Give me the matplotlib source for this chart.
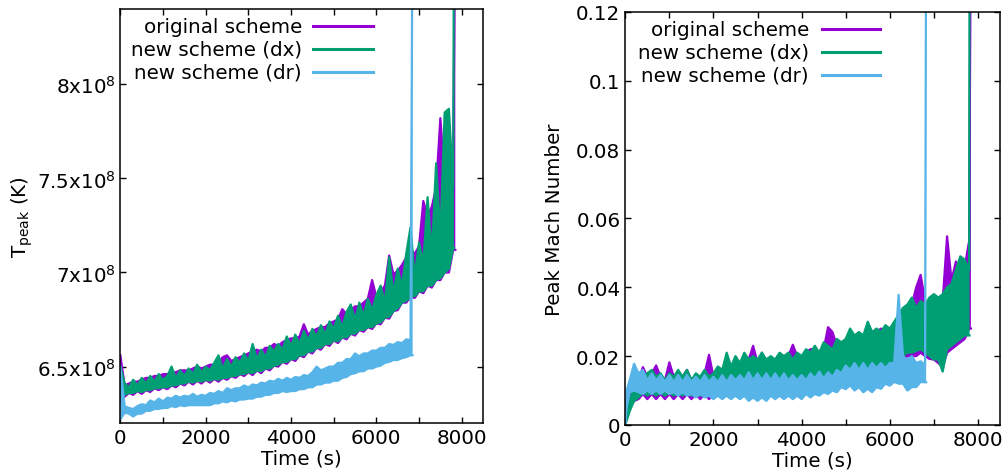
import matplotlib
matplotlib.use("Agg")
import matplotlib.pyplot as plt
from matplotlib.ticker import MultipleLocator, FixedLocator

plt.rcParams['font.family'] = ['DejaVu Sans']

# ---------------- data ----------------
# Each noisy run is given as its lower / upper envelope,
# sampled every 100 s (plus start and blow-up points).
labels = ["original scheme", "new scheme (dx)", "new scheme (dr)"]
colors = ["#9400D3", "#009E73", "#56B4E9"]

steps_7800 = list(range(100, 7900, 100))   # 100 ... 7800 s
steps_6800 = list(range(100, 6900, 100))   # 100 ... 6800 s

# ---- Left panel: peak temperature, units of 1e8 K ----
T_orig_t = [0] + steps_7800 + [7850]
T_orig_lo = [6.31,
    6.34, 6.36, 6.35, 6.37, 6.355, 6.375, 6.365, 6.385, 6.375, 6.39,
    6.38, 6.40, 6.39, 6.41, 6.40, 6.42, 6.405, 6.425, 6.41, 6.43,
    6.415, 6.435, 6.42, 6.44, 6.43, 6.45, 6.44, 6.46, 6.45, 6.47,
    6.455, 6.48, 6.465, 6.49, 6.48, 6.505, 6.50, 6.525, 6.515, 6.54,
    6.53, 6.56, 6.55, 6.58, 6.57, 6.60, 6.59, 6.62, 6.61, 6.64,
    6.625, 6.655, 6.645, 6.675, 6.665, 6.695, 6.685, 6.71, 6.70, 6.73,
    6.725, 6.76, 6.755, 6.795, 6.80, 6.84, 6.84, 6.87, 6.865, 6.90,
    6.89, 6.93, 6.92, 6.96, 6.96, 7.00, 7.00, 7.12,
    7.12]
T_orig_hi = [6.56,
    6.40, 6.41, 6.42, 6.42, 6.43, 6.44, 6.44, 6.45, 6.45, 6.46,
    6.46, 6.47, 6.47, 6.48, 6.48, 6.48, 6.49, 6.50, 6.49, 6.50,
    6.51, 6.51, 6.52, 6.55, 6.56, 6.53, 6.54, 6.55, 6.56, 6.57,
    6.58, 6.59, 6.58, 6.60, 6.60, 6.62, 6.61, 6.63, 6.64, 6.65,
    6.65, 6.66, 6.725, 6.67, 6.69, 6.70, 6.71, 6.71, 6.73, 6.74,
    6.75, 6.805, 6.78, 6.80, 6.82, 6.82, 6.84, 6.86, 6.96, 6.87,
    6.90, 6.93, 7.09, 6.99, 7.01, 7.04, 7.08, 7.12, 7.10, 7.14,
    7.38, 7.30, 7.35, 7.45, 7.82, 7.50, 7.60, 7.55,
    9.00]

T_dx_t = [0] + steps_7800 + [7820]
T_dx_lo = [6.33,
    6.35, 6.36, 6.36, 6.37, 6.365, 6.375, 6.375, 6.385, 6.385, 6.39,
    6.39, 6.40, 6.40, 6.41, 6.41, 6.42, 6.415, 6.425, 6.42, 6.43,
    6.425, 6.435, 6.43, 6.44, 6.44, 6.45, 6.45, 6.46, 6.46, 6.47,
    6.465, 6.48, 6.475, 6.49, 6.49, 6.505, 6.51, 6.525, 6.525, 6.54,
    6.54, 6.56, 6.56, 6.58, 6.58, 6.60, 6.60, 6.62, 6.62, 6.64,
    6.635, 6.655, 6.655, 6.675, 6.675, 6.695, 6.695, 6.71, 6.71, 6.73,
    6.735, 6.76, 6.765, 6.795, 6.81, 6.84, 6.85, 6.87, 6.875, 6.90,
    6.90, 6.93, 6.93, 6.96, 6.97, 7.00, 7.02, 7.13,
    7.13]
T_dx_hi = [6.50,
    6.41, 6.39, 6.43, 6.40, 6.44, 6.41, 6.45, 6.42, 6.46, 6.43,
    6.45, 6.50, 6.44, 6.48, 6.45, 6.49, 6.46, 6.51, 6.47, 6.50,
    6.48, 6.52, 6.56, 6.49, 6.54, 6.50, 6.55, 6.52, 6.57, 6.53,
    6.62, 6.54, 6.59, 6.55, 6.61, 6.58, 6.62, 6.59, 6.66, 6.61,
    6.67, 6.62, 6.69, 6.64, 6.70, 6.66, 6.72, 6.67, 6.74, 6.70,
    6.77, 6.71, 6.79, 6.83, 6.75, 6.84, 6.77, 6.86, 6.80, 6.88,
    6.93, 6.84, 7.08, 6.89, 7.02, 6.93, 7.10, 7.24, 6.98, 7.16,
    7.05, 7.40, 7.10, 7.58, 7.20, 7.85, 7.87, 7.45,
    9.00]

T_dr_t = [0] + steps_6800 + [6850]
T_dr_lo = [6.22,
    6.255, 6.25, 6.235, 6.25, 6.25, 6.265, 6.265, 6.275, 6.275, 6.28,
    6.28, 6.29, 6.285, 6.295, 6.29, 6.295, 6.295, 6.295, 6.295, 6.295,
    6.295, 6.305, 6.305, 6.315, 6.31, 6.32, 6.315, 6.325, 6.325, 6.33,
    6.33, 6.34, 6.34, 6.35, 6.35, 6.36, 6.36, 6.37, 6.365, 6.37,
    6.37, 6.38, 6.38, 6.39, 6.39, 6.405, 6.405, 6.415, 6.415, 6.425,
    6.425, 6.44, 6.445, 6.46, 6.465, 6.475, 6.475, 6.49, 6.49, 6.50,
    6.505, 6.52, 6.525, 6.535, 6.535, 6.545, 6.55, 6.56,
    6.56]
T_dr_hi = [6.50,
    6.29, 6.28, 6.275, 6.29, 6.30, 6.295, 6.32, 6.31, 6.33, 6.315,
    6.335, 6.33, 6.345, 6.335, 6.345, 6.34, 6.355, 6.34, 6.35, 6.345,
    6.36, 6.355, 6.37, 6.36, 6.385, 6.375, 6.385, 6.385, 6.40, 6.39,
    6.405, 6.40, 6.415, 6.41, 6.425, 6.42, 6.435, 6.425, 6.44, 6.43,
    6.445, 6.44, 6.455, 6.45, 6.47, 6.50, 6.48, 6.49, 6.50, 6.50,
    6.52, 6.52, 6.54, 6.54, 6.57, 6.555, 6.57, 6.57, 6.585, 6.585,
    6.60, 6.60, 6.62, 6.615, 6.63, 6.625, 6.645, 6.64,
    9.00]

# ---- Right panel: peak Mach number, units of 1e-3 ----
M_orig_t = [0, 50] + steps_7800 + [7840]
M_orig_lo = [0, 3,
    5, 7, 7.5, 9, 7.5, 9, 7.5, 9, 7.5, 9,
    7.5, 9, 7.5, 9, 7.5, 9, 7.5, 9, 7.5, 9,
    8.5, 10, 9.5, 11, 10, 11.5, 10.5, 11.5, 10.5, 11.5,
    11, 11, 11, 11, 11, 11.5, 11.5, 11.5, 11.5, 11.5,
    12, 12, 12, 12.5, 12.5, 13, 13, 13, 13, 13.5,
    13.5, 14, 14, 14.5, 14.5, 15, 15, 15.5, 16, 16,
    17, 18, 19, 20, 20, 20, 21, 20, 19.2, 19,
    18, 16.8, 21, 22, 23, 24, 25, 28,
    28]
M_orig_hi = [0, 6,
    9, 12, 13, 16.8, 14, 15, 17.3, 14, 13, 18.2,
    14, 15, 14, 16, 13, 14, 13, 15, 20.4, 14,
    15, 16, 17, 16, 18, 17, 18, 19, 23, 18,
    21, 18, 19, 18, 20, 19, 20, 23.3, 20, 19,
    21, 22, 22, 20, 22, 28.4, 27, 23, 22, 24,
    25, 25, 26, 25, 27, 26, 27, 28, 27, 27,
    28, 29, 31, 33, 35, 40, 43.6, 36, 34, 33,
    35, 36, 54.8, 42, 47.5, 44, 46, 53.4,
    150]

M_dx_t = [0, 50] + steps_7800 + [7810]
M_dx_lo = [0, 2,
    4, 7, 8, 9.5, 8.5, 9.5, 8.5, 9.5, 8.5, 9.5,
    8.5, 9.5, 8.5, 9.5, 8.5, 9.5, 8.5, 9.5, 8.5, 9.5,
    9.5, 10.5, 11, 11.5, 11.5, 12, 11.5, 12, 11.5, 12,
    12, 12, 12, 12, 12, 12.5, 12.5, 12.5, 12.5, 12.5,
    13, 13, 13, 13.5, 13.5, 14, 14, 14, 14, 14.5,
    14.5, 15, 15, 15.5, 15.5, 16, 16, 16.5, 17, 17,
    18, 19, 20, 21, 21, 21.5, 22, 21, 20, 19,
    19, 15.5, 22, 23, 24, 25, 26, 26,
    26]
M_dx_hi = [0, 4,
    7, 11, 12, 14, 15, 16, 14, 15, 13, 15,
    14, 16, 14, 16, 13, 15, 14, 16, 14, 15,
    17, 16, 21, 17, 20, 18, 21, 19, 20, 19,
    21, 19, 20, 19, 21, 20, 21, 19, 21, 20,
    22, 21, 23, 21, 24, 23, 22, 25, 24, 25,
    28, 26, 27, 26, 30, 27, 28, 27, 29, 28,
    30, 32, 34, 35, 37, 34, 36, 35, 37, 38,
    37, 38, 40, 41, 45, 49, 48, 45,
    150]

M_dr_t = [0, 30] + steps_6800 + [6825]
M_dr_lo = [0, 5,
    9.5, 10, 9.5, 9, 10, 9, 10, 9, 10, 9,
    9.5, 8.5, 9.5, 8.5, 9, 8, 9, 8, 8.5, 7.5,
    8.5, 7.5, 8.5, 7.5, 8.5, 7.5, 8.5, 7, 8, 7,
    8, 7, 8.5, 7.5, 8.5, 7.5, 8.5, 7.5, 8.5, 7.5,
    9, 8, 9, 8.5, 9.5, 9, 10, 9.5, 11, 10.4,
    11.5, 10, 11, 9.5, 10.5, 9.5, 11, 10.5, 12, 11.4,
    12.5, 12, 12, 10, 11, 11, 12.5, 12.4,
    12.4]
M_dr_hi = [0, 10,
    13, 17.8, 15, 16, 13, 15, 13, 14.5, 12.5, 14.5,
    12.5, 14.5, 12.5, 14.5, 12.5, 14, 12.5, 14.5, 12.5, 14,
    12.5, 14.5, 12.5, 14.5, 13, 14.5, 13, 15.3, 13, 15,
    13, 15, 13, 15, 13, 15, 13, 14.5, 13, 14.5,
    13, 15, 13.5, 15.5, 13.5, 15.3, 14, 16, 15, 17.3,
    16, 18, 16, 18, 16, 18, 16.5, 18, 16.5, 18,
    18, 37.8, 20, 19, 20, 18, 18.5, 17.5,
    150]

# ---------------- figure ----------------
fig = plt.figure(figsize=(10.03, 4.77), dpi=100)
axL = fig.add_axes([0.1200, 0.1110, 0.3616, 0.8680])
axR = fig.add_axes([0.6234, 0.1070, 0.3736, 0.8660])

lw = 2.2
edge = 1.6

def band(ax, t, lo, hi, c, scale, z):
    lo_s = [v * scale for v in lo]
    hi_s = [v * scale for v in hi]
    ax.fill_between(t, lo_s, hi_s, color=c, lw=0, zorder=z)
    ax.plot(t, hi_s, color=c, lw=edge, zorder=z)
    ax.plot(t, lo_s, color=c, lw=edge, zorder=z)

band(axL, T_orig_t, T_orig_lo, T_orig_hi, colors[0], 1e8, 2)
band(axL, T_dx_t, T_dx_lo, T_dx_hi, colors[1], 1e8, 3)
band(axL, T_dr_t, T_dr_lo, T_dr_hi, colors[2], 1e8, 4)
band(axR, M_orig_t, M_orig_lo, M_orig_hi, colors[0], 1e-3, 2)
band(axR, M_dx_t, M_dx_lo, M_dx_hi, colors[1], 1e-3, 3)
band(axR, M_dr_t, M_dr_lo, M_dr_hi, colors[2], 1e-3, 4)

fs = 14.3
for ax in (axL, axR):
    ax.set_xlim(0, 8500)
    ax.xaxis.set_major_locator(MultipleLocator(2000))
    ax.xaxis.set_minor_locator(MultipleLocator(1000))
    ax.tick_params(which='both', direction='in', top=True, right=True,
                   length=4, width=1.0, labelsize=fs, pad=3.5)
    for s in ax.spines.values():
        s.set_linewidth(1.1)
        s.set_zorder(10)
    ax.set_xlabel("Time (s)", fontsize=fs, labelpad=1)

axL.set_ylim(6.2e8, 8.4e8)
axL.yaxis.set_major_locator(FixedLocator([6.5e8, 7e8, 7.5e8, 8e8]))
axL.set_yticklabels([r'6.5x10$^{8}$', r'7x10$^{8}$', r'7.5x10$^{8}$', r'8x10$^{8}$'])
axL.set_ylabel(r'T$_{\mathrm{peak}}$ (K)', fontsize=fs, labelpad=1)

axR.set_ylim(0, 0.12)
axR.set_yticks([0, 0.02, 0.04, 0.06, 0.08, 0.1, 0.12])
axR.set_yticklabels(['0', '0.02', '0.04', '0.06', '0.08', '0.1', '0.12'])
axR.set_ylabel('Peak Mach Number', fontsize=fs, labelpad=9)

# legends (gnuplot style: right-aligned text, sample line on the right)
def legend(ax, x_text, x0, x1, ys):
    for lab, c, y in zip(labels, colors, ys):
        ax.text(x_text, y, lab, transform=ax.transAxes, ha='right', va='center',
                fontsize=fs, zorder=12)
        ax.plot([x0, x1], [y, y], transform=ax.transAxes, color=c, lw=lw,
                clip_on=False, zorder=12)

toL = lambda px: (px - 120.4) / 362.7
toLy = lambda py: (424 - py) / 414
legend(axL, toL(302), toL(313), toL(373), [toLy(27), toLy(50), toLy(73)])
toR = lambda px: (px - 625.3) / 374.7
toRy = lambda py: (426 - py) / 413.3
legend(axR, toR(809), toR(821.7), toR(880), [toRy(30), toRy(52.7), toRy(76)])

fig.savefig("out.png", dpi=100)
